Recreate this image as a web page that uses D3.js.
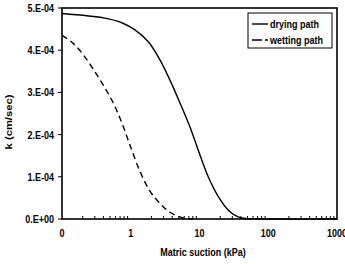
<!DOCTYPE html>
<html>
<head>
<meta charset="utf-8">
<script src="https://cdn.jsdelivr.net/npm/d3@7"></script>
<style>
  body { margin: 0; background: #fff; }
  text { font-family: "Liberation Sans", Arial, sans-serif; font-weight: bold; fill: #000; }
</style>
</head>
<body>
<div id="chart"></div>
<script>
// drying path: suction (kPa) vs k (cm/sec)
var dryS = [0.1, 0.42, 0.74, 1.15, 1.8, 2.66, 3.72, 5.2, 7.27, 9.6, 13.4, 18.8, 26.2, 36.7, 48.6, 80, 1000];
var dryK = [4.87e-4, 4.76e-4, 4.65e-4, 4.48e-4, 4.2e-4, 3.77e-4, 3.29e-4, 2.75e-4, 2.18e-4, 1.63e-4, 1.0e-4, 0.53e-4, 0.21e-4, 0.05e-4, 0.01e-4, 0, 0];
// wetting path
var wetS = [0.1, 0.146, 0.204, 0.285, 0.399, 0.557, 0.746, 0.975, 1.36, 1.905, 2.66, 3.72, 5.2, 6.6, 8];
var wetK = [4.35e-4, 4.16e-4, 3.89e-4, 3.55e-4, 3.17e-4, 2.75e-4, 2.27e-4, 1.75e-4, 1.13e-4, 0.66e-4, 0.37e-4, 0.16e-4, 0.05e-4, 0.01e-4, 0];

var xTicks = [0.1, 1, 10, 100, 1000];
var xTickLabels = ["0", "1", "10", "100", "1000"];
var yTicks = [0, 1e-4, 2e-4, 3e-4, 4e-4, 5e-4];
var yTickLabels = ["0.E+00", "1.E-04", "2.E-04", "3.E-04", "4.E-04", "5.E-04"];

var W = 345, H = 264;
var margin = {top: 8, right: 8, bottom: 45, left: 62},
  width = W - margin.left - margin.right,
  height = H - margin.top - margin.bottom;
var stretch = 1.25; // the original picture is stretched vertically

var svg = d3.select("#chart")
  .append("svg")
  .attr("width", W)
  .attr("height", H);

var g = svg.append("g")
  .attr("transform", "translate(" + margin.left + "," + margin.top + ")");

var x = d3.scaleLog().domain([0.1, 1000]).range([0, width]);
var y = d3.scaleLinear().domain([0, 5e-4]).range([height, 0]);

function place(px, py) {
  return "translate(" + px + "," + py + ") scale(1," + stretch + ")";
}

// minor ticks on x axis (inward)
var minor = [];
for (var p = -1; p < 3; p++) {
  for (var m = 2; m <= 9; m++) minor.push(m * Math.pow(10, p));
}
g.selectAll(".minor")
  .data(minor)
  .enter()
  .append("line")
    .attr("x1", function(d){ return x(d); })
    .attr("x2", function(d){ return x(d); })
    .attr("y1", height)
    .attr("y2", height - 3)
    .attr("stroke", "#000")
    .attr("stroke-width", 1);

// y ticks (outward)
g.selectAll(".ytick")
  .data(yTicks)
  .enter()
  .append("line")
    .attr("x1", -4)
    .attr("x2", 0)
    .attr("y1", function(d){ return y(d); })
    .attr("y2", function(d){ return y(d); })
    .attr("stroke", "#000")
    .attr("stroke-width", 1);

g.selectAll(".ylab")
  .data(yTicks)
  .enter()
  .append("text")
    .attr("transform", function(d){ return place(-8, y(d)); })
    .attr("dy", "0.35em")
    .attr("text-anchor", "end")
    .attr("font-size", "9px")
    .text(function(d, i){ return yTickLabels[i]; });

g.selectAll(".xlab")
  .data(xTicks)
  .enter()
  .append("text")
    .attr("transform", function(d){ return place(x(d), height + 14); })
    .attr("dy", "0.35em")
    .attr("text-anchor", "middle")
    .attr("font-size", "9px")
    .text(function(d, i){ return xTickLabels[i]; });

// frame
g.append("rect")
  .attr("x", 0)
  .attr("y", 0)
  .attr("width", width)
  .attr("height", height)
  .attr("fill", "none")
  .attr("stroke", "#000")
  .attr("stroke-width", 1.6);

var line = d3.line()
  .x(function(d){ return x(d[0]); })
  .y(function(d){ return Math.min(y(d[1]), height); })
  .curve(d3.curveCatmullRom.alpha(0.5));

g.append("path")
  .datum(d3.zip(dryS, dryK))
  .attr("d", line)
  .attr("fill", "none")
  .attr("stroke", "#000")
  .attr("stroke-width", 1.4);

g.append("path")
  .datum(d3.zip(wetS, wetK))
  .attr("d", line)
  .attr("fill", "none")
  .attr("stroke", "#000")
  .attr("stroke-width", 1.4)
  .attr("stroke-dasharray", "6,4");

// axis titles
svg.append("text")
  .attr("transform", "translate(12,122) scale(1," + stretch + ") rotate(-90)")
  .attr("text-anchor", "middle")
  .attr("font-size", "9px")
  .text("k (cm/sec)");

svg.append("text")
  .attr("transform", place(203, 256))
  .attr("text-anchor", "middle")
  .attr("font-size", "9px")
  .text("Matric suction (kPa)");

// legend
var lg = svg.append("g").attr("transform", "translate(248,13)");
lg.append("rect")
  .attr("width", 84)
  .attr("height", 35)
  .attr("fill", "#fff")
  .attr("stroke", "#000")
  .attr("stroke-width", 1);
var items = [{name: "drying path", dash: null}, {name: "wetting path", dash: "10,3"}];
items.forEach(function(it, i){
  var yy = 11 + i * 16;
  lg.append("line")
    .attr("x1", 4).attr("x2", 20)
    .attr("y1", yy).attr("y2", yy)
    .attr("stroke", "#000")
    .attr("stroke-width", 1.4)
    .attr("stroke-dasharray", it.dash);
  lg.append("text")
    .attr("transform", place(22, yy))
    .attr("dy", "0.35em")
    .attr("font-size", "9px")
    .text(it.name);
});
</script>
</body>
</html>
